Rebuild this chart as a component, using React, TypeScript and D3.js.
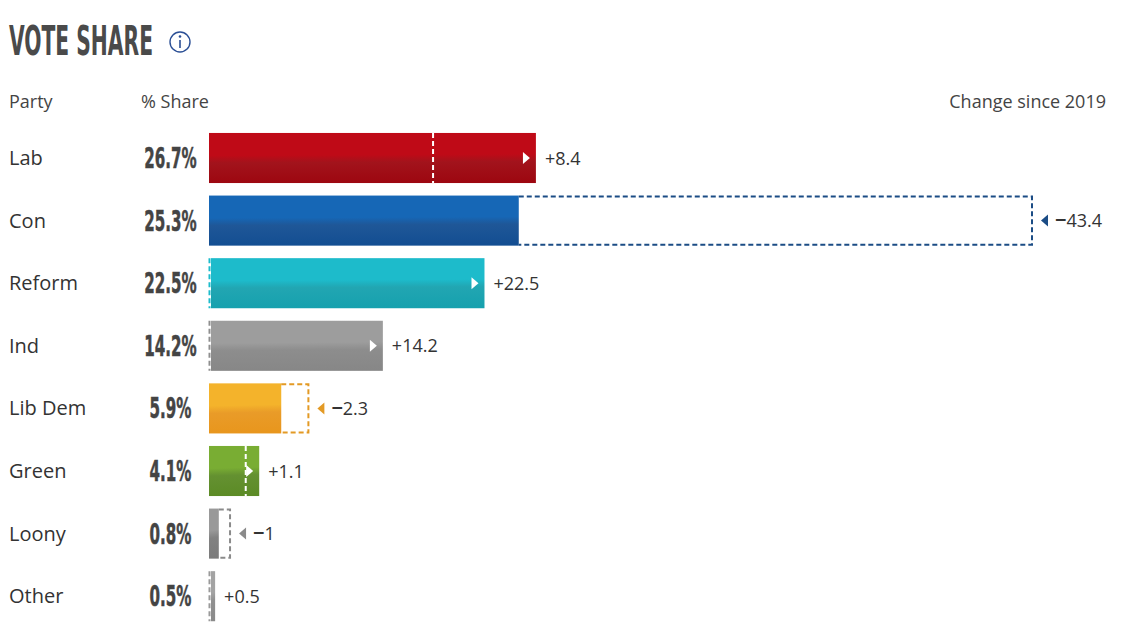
import { scaleLinear, scaleBand } from "d3";

const parties = ["Lab", "Con", "Reform", "Ind", "Lib Dem", "Green", "Loony", "Other"];
const shares = [26.7, 25.3, 22.5, 14.2, 5.9, 4.1, 0.8, 0.5];
const changes = [8.4, -43.4, 22.5, 14.2, -2.3, 1.1, -1, 0.5];
const topColors = ["#bf0a17", "#1667b6", "#1dbbcb", "#9d9d9d", "#f4b32b", "#79ad33", "#999999", "#a3a3a3"];
const bottomColors = ["#9d0710", "#134e92", "#16a1ae", "#878787", "#e8961d", "#5c8b26", "#7b7b7b", "#8a8a8a"];
const dashColors = ["#ffffff", "#1b4c85", "#1dbccc", "#8f8f8f", "#e39a25", "#ffffff", "#8a8a8a", "#9a9a9a"];

const WIDTH = 1146;
const HEIGHT = 635;
const FONT = "'Open Sans', 'Noto Sans', sans-serif";
const NARROW = "'DejaVu Sans Condensed', 'DejaVu Sans', sans-serif";

export default function App() {
  // the 2019 Con box runs past the plot edge, so it is clamped there
  const x = scaleLinear().domain([0, 67.3]).range([209, 1033]).clamp(true);
  const y = scaleBand<string>()
    .domain(parties)
    .range([126.7, 126.7 + 8 * 62.6])
    .paddingInner(0.2)
    .paddingOuter(0.1);
  const bh = y.bandwidth();

  return (
    <svg
      width={WIDTH}
      height={HEIGHT}
      viewBox={`0 0 ${WIDTH} ${HEIGHT}`}
      style={{ position: "absolute", left: 0, top: 0, background: "#fff" }}
    >
      <defs>
        {parties.map((p, i) => (
          <linearGradient key={p} id={`g${i}`} x1="0" y1="0" x2="0.03" y2="1">
            <stop offset="0" stopColor={topColors[i]} />
            <stop offset="0.45" stopColor={topColors[i]} />
            <stop offset="0.6" stopColor={bottomColors[i]} stopOpacity={0.95} />
            <stop offset="1" stopColor={bottomColors[i]} />
          </linearGradient>
        ))}
      </defs>

      {/* title */}
      <text x={9} y={55} fontFamily={NARROW} fontWeight="bold" fontSize={41} fill="#4a4a4a" textLength={144} lengthAdjust="spacingAndGlyphs">
        VOTE SHARE
      </text>
      <circle cx={180} cy={42} r={10} fill="none" stroke="#2b4f95" strokeWidth={1.4} />
      <circle cx={180} cy={36.5} r={1.3} fill="#2b4f95" />
      <line x1={180} y1={40} x2={180} y2={48} stroke="#2b4f95" strokeWidth={1.6} />

      {/* header */}
      <text x={9} y={108} fontFamily={FONT} fontSize={18} fill="#444">Party</text>
      <text x={141} y={108} fontFamily={FONT} fontSize={18} fill="#444">% Share</text>
      <text x={1106} y={108} fontFamily={FONT} fontSize={18} fill="#444" textAnchor="end">Change since 2019</text>

      {parties.map((p, i) => {
        const top = y(p) ?? 0;
        const mid = top + bh / 2;
        const x0 = x(0);
        const end = x(shares[i]);
        const prev = shares[i] - changes[i];
        const prevX = x(prev);
        const up = changes[i] > 0;
        const labelX = up ? end + 9 : prevX + 22;
        const barX = prev === 0 ? x0 + 2 : x0;
        return (
          <g key={p}>
            <text x={9} y={mid + 7} fontFamily={FONT} fontSize={20} fill="#333">{p}</text>
            <text
              transform={`translate(170.5,${mid + 10}) scale(0.6,1)`}
              textAnchor="middle"
              fontFamily={NARROW}
              fontWeight="bold"
              fontSize={28}
              fill="#444"
              stroke="#444"
              strokeWidth={0.5}
            >
              {shares[i]}%
            </text>

            <rect x={barX} y={top} width={end - barX} height={bh} fill={`url(#g${i})`} />

            {up && prev > 0 && (
              <line x1={prevX} x2={prevX} y1={top} y2={top + bh} stroke="#fff" strokeWidth={2} strokeDasharray="5 3" />
            )}
            {up && prev === 0 && (
              <line x1={x0 + 0.5} x2={x0 + 0.5} y1={top} y2={top + bh} stroke={dashColors[i]} strokeWidth={2} strokeDasharray="5 3" />
            )}
            {up && shares[i] > 2 && (
              <path d={`M${end - 13},${mid - 6} L${end - 6},${mid} L${end - 13},${mid + 6} Z`} fill="#fff" />
            )}

            {!up && (
              <>
                <path
                  d={`M${end},${top + 1} H${prevX - 1} V${top + bh - 1} H${end}`}
                  fill="none"
                  stroke={dashColors[i]}
                  strokeWidth={2}
                  strokeDasharray="5 3"
                />
                <path d={`M${prevX + 8},${mid} L${prevX + 15},${mid - 6} L${prevX + 15},${mid + 6} Z`} fill={dashColors[i]} />
              </>
            )}

            <text x={labelX} y={mid + 6.5} fontFamily={FONT} fontSize={18} fill="#333">
              {up ? (
                `+${changes[i]}`
              ) : (
                <>
                  <tspan fontWeight="bold" fontSize={20}>{"\u2212"}</tspan>
                  {Math.abs(changes[i])}
                </>
              )}
            </text>
          </g>
        );
      })}
    </svg>
  );
}
